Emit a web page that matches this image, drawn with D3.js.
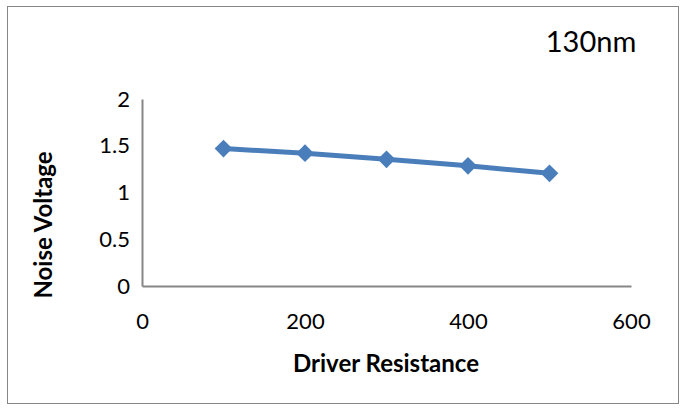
<!DOCTYPE html>
<html>
<head>
<meta charset="utf-8">
<script src="https://cdn.jsdelivr.net/npm/d3@7"></script>
<style>
  html, body { margin: 0; padding: 0; background: #fff; }
  svg { display: block; }
  text { font-family: Lato, "Liberation Sans", sans-serif; fill: #000; }
</style>
</head>
<body>
<svg id="chart" width="686" height="409"></svg>
<script>
// Noise voltage against driver resistance, 130nm process
const resistance = [100, 200, 300, 400, 500];
const noiseVoltage = [1.47, 1.42, 1.355, 1.285, 1.205];
const xTicks = [0, 200, 400, 600];
const yTicks = [0, 0.5, 1, 1.5, 2];
const title = "130nm";
const xLabel = "Driver Resistance";
const yLabel = "Noise Voltage";

const svg = d3.select("#chart");
const plot = { left: 142, right: 631, top: 99, bottom: 286 };

// outer frame
svg.append("rect")
  .attr("x", 7.5).attr("y", 6.5)
  .attr("width", 671).attr("height", 397)
  .attr("fill", "#fff")
  .attr("stroke", "#868686").attr("stroke-width", 1);

const x = d3.scaleLinear().domain([0, 600]).range([plot.left, plot.right]);
const y = d3.scaleLinear().domain([0, 2]).range([plot.bottom, plot.top]);

// axes
const xAxis = svg.append("g")
  .attr("transform", `translate(0,${plot.bottom})`)
  .call(d3.axisBottom(x).tickValues(xTicks).tickSize(0).tickPadding(27).tickFormat(d3.format("d")));
const yAxis = svg.append("g")
  .attr("transform", `translate(${plot.left},0)`)
  .call(d3.axisLeft(y).tickValues(yTicks).tickSize(0).tickPadding(12).tickFormat(d => String(d)));

[xAxis, yAxis].forEach(g => {
  g.select(".domain").attr("stroke", "#868686").attr("stroke-width", 2);
  g.selectAll("text").style("font-family", "Lato, 'Liberation Sans', sans-serif")
    .style("font-size", "22px").attr("fill", "#000");
});
xAxis.selectAll("text").attr("dy", "0.71em");

// series line
const line = d3.line()
  .x((d, i) => x(resistance[i]))
  .y(d => y(d));
svg.append("path")
  .datum(noiseVoltage)
  .attr("d", line)
  .attr("fill", "none")
  .attr("stroke", "#4a7ebb")
  .attr("stroke-width", 5)
  .attr("stroke-linejoin", "round");

// diamond markers
const diamond = d3.symbol().type(d3.symbolDiamond2).size(200);
svg.append("g").selectAll("path")
  .data(noiseVoltage)
  .join("path")
  .attr("transform", (d, i) => `translate(${x(resistance[i])},${y(d)})`)
  .attr("d", diamond)
  .attr("fill", "#4a7ebb");

// title and axis titles
svg.append("text")
  .attr("x", 591).attr("y", 52)
  .attr("text-anchor", "middle")
  .style("font-size", "29px")
  .text(title);

svg.append("text")
  .attr("x", 386).attr("y", 372)
  .attr("text-anchor", "middle")
  .style("font-size", "24px").style("font-weight", "bold")
  .text(xLabel);

svg.append("text")
  .attr("transform", "translate(52,225) rotate(-90)")
  .attr("text-anchor", "middle")
  .style("font-size", "24px").style("font-weight", "bold")
  .text(yLabel);
</script>
</body>
</html>
